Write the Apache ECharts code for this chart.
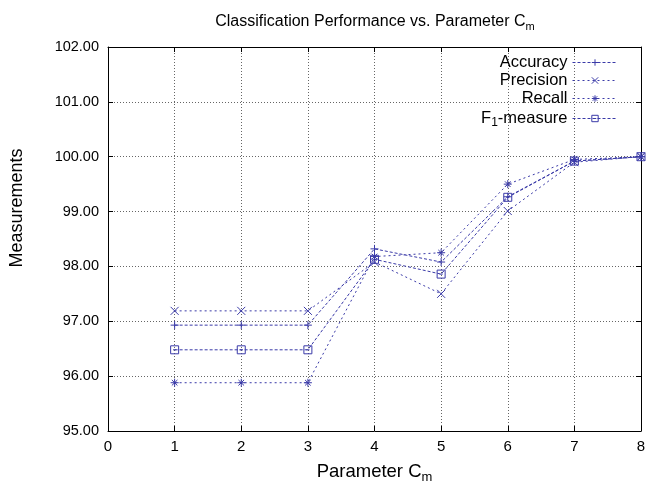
<!DOCTYPE html>
<html>
<head>
<meta charset="utf-8">
<script src="https://cdn.jsdelivr.net/npm/echarts@6/dist/echarts.min.js"></script>
<style>html,body{margin:0;padding:0;background:#fff}#chart{width:649px;height:490px}</style>
</head>
<body>
<div id="chart"></div>
<script>
var paramCm = [1, 2, 3, 4, 5, 6, 7, 8];
var accuracy = [96.93, 96.93, 96.93, 98.32, 98.08, 99.27, 99.92, 100.0];
var precision = [97.19, 97.19, 97.19, 98.08, 97.50, 99.01, 99.90, 100.0];
var recall = [95.88, 95.88, 95.88, 98.18, 98.25, 99.50, 99.95, 100.0];
var f1measure = [96.48, 96.48, 96.48, 98.13, 97.86, 99.26, 99.92, 100.0];
var seriesNames = ['Accuracy', 'Precision', 'Recall', 'F1-measure'];

var lineColor = '#3a3aa8';
var font = 'Liberation Sans, Arial, Helvetica, sans-serif';
var symbols = [
	'path://M5,0V10M0,5H10',
	'path://M0,0L10,10M10,0L0,10',
	'path://M5,0V10M0,5H10M1.5,1.5L8.5,8.5M8.5,1.5L1.5,8.5',
	'path://M0,0H10V10H0ZM3,5H7'
];
var dashes = [[3, 2], [2, 3], [2, 3], [3, 2]];

function pairs(vals){
	return paramCm.map(function(x, i){ return [x, vals[i]]; });
}

var chart = echarts.init(document.getElementById('chart'));
var allVals = [accuracy, precision, recall, f1measure];
var series = allVals.map(function(vals, i){
	return {
		name: seriesNames[i],
		type: 'line',
		data: pairs(vals),
		symbol: symbols[i],
		symbolSize: 8,
		lineStyle: { color: lineColor, width: 1, type: dashes[i] },
		itemStyle: { color: 'none', borderColor: lineColor, borderWidth: 1 },
		emphasis: { disabled: true },
		animation: false
	};
});

var axisCommon = {
	axisLine: { show: true, onZero: false, lineStyle: { color: '#000', width: 1 } },
	axisTick: { show: true, inside: true, length: 5, lineStyle: { color: '#000' } }
};

chart.setOption({
	backgroundColor: '#fff',
	textStyle: { fontFamily: font },
	title: {
		text: '{a|Classification Performance vs. Parameter C}{s|m}',
		left: 370, top: 7, textAlign: 'center',
		textStyle: {
			fontWeight: 'normal',
			rich: {
				a: { fontSize: 16, color: '#000', fontFamily: font, fontWeight: 'normal', lineHeight: 20 },
				s: { fontSize: 11, color: '#000', fontFamily: font, fontWeight: 'normal', padding: [10, 0, 0, 0], lineHeight: 20 }
			}
		}
	},
	legend: {
		orient: 'vertical',
		right: 26, top: 49,
		align: 'right',
		itemWidth: 45, itemHeight: 8, itemGap: 1,
		data: seriesNames,
		lineStyle: { width: 1 },
		itemStyle: { borderWidth: 1 },
		textStyle: {
			fontSize: 16.5, color: '#000', fontFamily: font, lineHeight: 17,
			rich: {
				a: { fontSize: 16.5, color: '#000', fontFamily: font, lineHeight: 17 },
				s: { fontSize: 12, color: '#000', fontFamily: font, padding: [9, 0, 0, 0], lineHeight: 17 }
			}
		},
		formatter: function(name){
			return name === 'F1-measure' ? '{a|F}{s|1}{a|-measure}' : name;
		}
	},
	grid: { left: 108, right: 8, top: 47, bottom: 59, outerBoundsMode: 'none' },
	xAxis: [
		Object.assign({
			type: 'value', min: 0, max: 8, interval: 1,
			name: '{a|Parameter C}{s|m}', nameLocation: 'middle', nameGap: 28,
			nameTextStyle: {
				rich: {
					a: { fontSize: 18.5, color: '#000', fontFamily: font },
					s: { fontSize: 13, color: '#000', fontFamily: font, padding: [12, 0, 0, 0] }
				}
			},
			axisLabel: { fontSize: 15, color: '#000', margin: 8 },
			splitLine: { show: true, lineStyle: { color: '#666', type: [1, 2] } }
		}, axisCommon),
		Object.assign({
			type: 'value', min: 0, max: 8, interval: 1, position: 'top',
			axisLabel: { show: false }, splitLine: { show: false }
		}, axisCommon)
	],
	yAxis: [
		Object.assign({
			type: 'value', min: 95, max: 102, interval: 1,
			name: 'Measurements', nameLocation: 'middle', nameGap: 82, nameRotate: 90,
			nameTextStyle: { fontSize: 18, color: '#000', fontFamily: font, padding: [0, 0, 0, 62] },
			axisLabel: { fontSize: 14.5, color: '#000', margin: 9, formatter: function(v){ return v.toFixed(2); } },
			splitLine: { show: true, lineStyle: { color: '#666', type: [1, 2] } }
		}, axisCommon),
		Object.assign({
			type: 'value', min: 95, max: 102, interval: 1, position: 'right',
			axisLabel: { show: false }, splitLine: { show: false }
		}, axisCommon)
	],
	series: series
});
</script>
</body>
</html>
